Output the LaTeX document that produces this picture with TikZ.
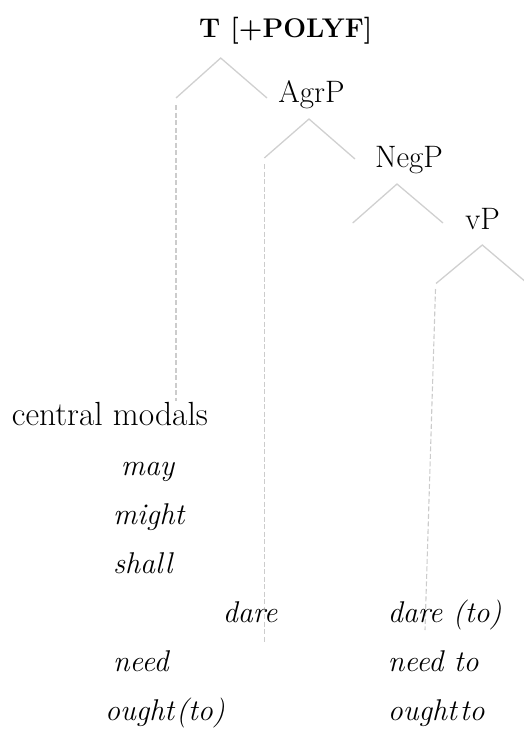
\documentclass[tikz,border=0pt]{standalone}
\usepackage{fontspec}
\definecolor{hatgray}{HTML}{D0D0D0}
\definecolor{dashgray}{HTML}{CCCCCC}
\tikzset{
  hat/.style={draw=hatgray, line width=1.3pt, line join=miter},
  trace/.style={draw=dashgray, line width=1.1pt, dash pattern=on 5pt off 2.5pt},
  lab/.style={inner sep=0pt, anchor=base, font=\fontsize{31}{36}\selectfont},
  word/.style={inner sep=0pt, anchor=base west, font=\fontsize{30}{36}\selectfont\itshape},
  plainword/.style={inner sep=0pt, anchor=base west, font=\fontsize{33.5}{38}\selectfont},
}
\begin{document}
\begin{tikzpicture}[x=1pt, y=-1pt]
\useasboundingbox (0,0) rectangle (524,731);
% labels
\node[inner sep=0pt, anchor=base west, font=\fontsize{27}{32}\selectfont\bfseries] (title) at (199,37) {T [+POLYF]};
\node[lab] (agrp) at (311.5,102) {AgrP};
\node[lab] (negp) at (409,167) {NegP};
\node[lab] (vp) at (482.5,229) {vP};
% hat coordinates
\coordinate (h1l) at (176,98);  \coordinate (h1t) at (220.7,58);  \coordinate (h1r) at (267,98);
\coordinate (h2l) at (264.3,158); \coordinate (h2t) at (309,119); \coordinate (h2r) at (355,159);
\coordinate (h3l) at (352.7,223); \coordinate (h3t) at (397,184); \coordinate (h3r) at (443,223);
\coordinate (h4l) at (436,283.5); \coordinate (h4t) at (482.3,245); \coordinate (h4r) at (527,283);
\draw[hat] (h1l) -- (h1t) -- (h1r);
\draw[hat] (h2l) -- (h2t) -- (h2r);
\draw[hat] (h3l) -- (h3t) -- (h3r);
\draw[hat] (h4l) -- (h4t) -- (h4r);
% traces
\coordinate (d1a) at (176,105); \coordinate (d1b) at (176,401);
\coordinate (d2a) at (264.3,164); \coordinate (d2b) at (264.3,643);
\coordinate (d3a) at (435.5,289); \coordinate (d3b) at (425,630);
\draw[trace] (d1a) -- (d1b);
\draw[trace] (d2a) -- (d2b);
\draw[trace] (d3a) -- (d3b);
% words
\node[plainword] (central) at (11.7,425) {central modals};
\node[word] (may) at (120.7,475) {may};
\node[word] (might) at (113,524) {might};
\node[word] (shall) at (113,573) {shall};
\node[word] (dare) at (222.7,622) {dare};
\node[word] (dareto) at (387.7,622) {dare (to)};
\node[word] (need) at (113,671) {need};
\node[word] (needto) at (387.7,671) {need to};
\node[word] (ought) at (105,720) {ought\hspace{2pt}(to)};
\node[word] (oughtto) at (387.7,720) {ought\hspace{3pt}to};
\end{tikzpicture}
\end{document}
